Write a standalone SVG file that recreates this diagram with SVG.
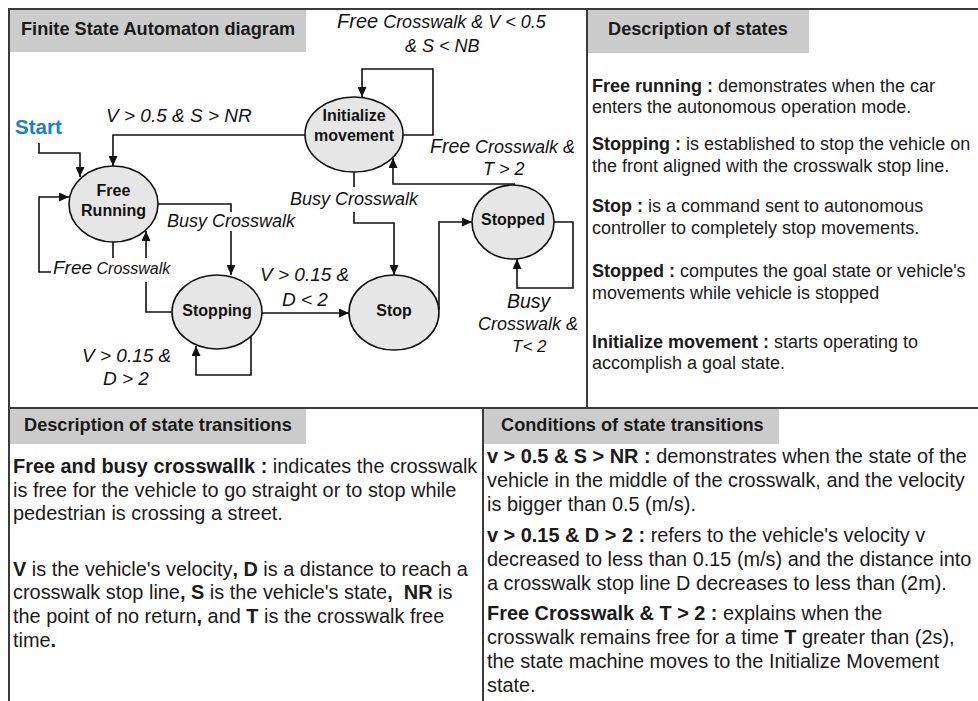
<svg xmlns="http://www.w3.org/2000/svg" width="978" height="701" viewBox="0 0 978 701">
<style>
.frame{stroke:#3a3a3a;stroke-width:2;fill:none}
.hdr{fill:#cccccc}
.htxt{font-family:"Liberation Sans",Arial,sans-serif;font-weight:bold;font-size:18.2px;fill:#1a1a1a}
.state ellipse{fill:#e6e6e6;stroke:#111;stroke-width:1.6}
.state text{font-family:"Liberation Sans",Arial,sans-serif;font-weight:bold;font-size:16px;fill:#111;text-anchor:middle}
.conn path{fill:none;stroke:#111;stroke-width:1.6}
.lbl{font-family:"Liberation Sans",Arial,sans-serif;font-style:italic;fill:#111}
.p18{font-family:"Liberation Sans",Arial,sans-serif;font-size:18px;fill:#1a1a1a}
.p19{font-family:"Liberation Sans",Arial,sans-serif;font-size:19.9px;fill:#1a1a1a}
.b{font-weight:bold}
</style>
<defs>
<marker id="arr" markerUnits="userSpaceOnUse" markerWidth="10" markerHeight="9" refX="10" refY="4.5" orient="auto">
<path d="M0,0 L10,4.5 L0,9 z" fill="#111"/>
</marker>
</defs>
<rect x="0" y="0" width="978" height="701" fill="#ffffff"/>

<!-- panels -->
<g id="panels">
<rect class="hdr" x="10" y="10" width="296" height="42"/>
<rect class="hdr" x="588" y="10" width="221" height="43"/>
<rect class="hdr" x="10" y="409" width="296" height="35"/>
<rect class="hdr" x="484" y="409" width="295" height="35"/>
<path class="frame" d="M978,9 H9 V701 M587,9 V408 M9,408 H978 M483,408 V701"/>
<text class="htxt" x="21" y="35">Finite State Automaton diagram</text>
<text class="htxt" x="608" y="35">Description of states</text>
<text class="htxt" x="24" y="431">Description of state transitions</text>
<text class="htxt" x="501" y="431">Conditions of state transitions</text>
</g>

<!-- start marker -->
<text x="15" y="134" font-family="'Liberation Sans',Arial,sans-serif" font-weight="bold" font-size="20.5" fill="#1b80c4">Start</text>

<!-- connectors -->
<g id="connectors" class="conn">
<path d="M39,143 V153 H80 V177" marker-end="url(#arr)"/>
<path d="M305,135 H113 V166" marker-end="url(#arr)"/>
<path d="M403,135 H433 V69 H362 V97" marker-end="url(#arr)"/>
<path d="M354,172 V223 H394 V275" marker-end="url(#arr)"/>
<path d="M515,184 H393 V158" marker-end="url(#arr)"/>
<path d="M158,204 H231 V275" marker-end="url(#arr)"/>
<path d="M172,312 H146 V231" marker-end="url(#arr)"/>
<path d="M113,242 V272 H39 V197 H69" marker-end="url(#arr)"/>
<path d="M251,336 V375 H196 V346" marker-end="url(#arr)"/>
<path d="M262,313 H349" marker-end="url(#arr)"/>
<path d="M439,310 V222 H472" marker-end="url(#arr)"/>
<path d="M554,222 H573 V288 H517 V259" marker-end="url(#arr)"/>
</g>

<!-- connector labels -->
<g id="labels">
<rect x="288" y="187" width="132" height="25" fill="#fff"/>
<rect x="164" y="212" width="133" height="19" fill="#fff"/>
<rect x="51" y="258" width="121" height="24" fill="#fff"/>
<text class="lbl" x="106" y="122" font-size="19">V &gt; 0.5 &amp; S &gt; NR</text>
<text class="lbl" x="337" y="28" font-size="18"><tspan font-size="20">Free</tspan> Crosswalk &amp; V &lt; 0.5</text>
<text class="lbl" x="405" y="52" font-size="18">&amp; S &lt; NB</text>
<text class="lbl" x="430" y="153" font-size="18"><tspan font-size="19.5">Free</tspan> Crosswalk &amp;</text>
<text class="lbl" x="483" y="175" font-size="18">T &gt; 2</text>
<text class="lbl" x="290" y="205" font-size="18">Busy Crosswalk</text>
<text class="lbl" x="167" y="227" font-size="18">Busy Crosswalk</text>
<text class="lbl" x="53" y="274" font-size="16"><tspan font-size="19">Free</tspan> Crosswalk</text>
<text class="lbl" x="82" y="362" font-size="19">V &gt; 0.15 &amp;</text>
<text class="lbl" x="103" y="385" font-size="19">D &gt; 2</text>
<text class="lbl" x="260" y="281" font-size="19">V &gt; 0.15 &amp;</text>
<text class="lbl" x="282" y="306" font-size="19">D &lt; 2</text>
<text class="lbl" x="507" y="308" font-size="19.5">Busy</text>
<text class="lbl" x="478" y="330" font-size="18">Crosswalk &amp;</text>
<text class="lbl" x="512" y="352" font-size="17">T&lt; 2</text>
</g>

<!-- states -->
<g id="free-running" class="state">
<ellipse cx="113.5" cy="204" rx="44.5" ry="38"/>
<text x="113.5" y="196">Free</text>
<text x="113.5" y="216">Running</text>
</g>
<g id="initialize-movement" class="state">
<ellipse cx="354" cy="134.5" rx="49" ry="37.5"/>
<text x="354" y="121">Initialize</text>
<text x="354" y="141">movement</text>
</g>
<g id="stopping" class="state">
<ellipse cx="217" cy="312" rx="45" ry="37"/>
<text x="217" y="316">Stopping</text>
</g>
<g id="stop" class="state">
<ellipse cx="394" cy="312.5" rx="45" ry="37.5"/>
<text x="394" y="316">Stop</text>
</g>
<g id="stopped" class="state">
<ellipse cx="513" cy="222" rx="41" ry="37"/>
<text x="513" y="225">Stopped</text>
</g>

<!-- description of states -->
<g id="desc-states" class="p18">
<text x="592" y="92"><tspan class="b">Free running :</tspan> demonstrates when the car</text>
<text x="592" y="113">enters the autonomous operation mode.</text>
<text x="592" y="150"><tspan class="b">Stopping :</tspan> is established to stop the vehicle on</text>
<text x="592" y="172">the front aligned with the crosswalk stop line.</text>
<text x="592" y="212"><tspan class="b">Stop :</tspan> is a command sent to autonomous</text>
<text x="592" y="234">controller to completely stop movements.</text>
<text x="592" y="277"><tspan class="b">Stopped :</tspan> computes the goal state or vehicle's</text>
<text x="592" y="299">movements while vehicle is stopped</text>
<text x="592" y="348"><tspan class="b">Initialize movement :</tspan> starts operating to</text>
<text x="592" y="369">accomplish a goal state.</text>
</g>

<!-- description of state transitions -->
<g id="desc-transitions" class="p19">
<text x="13" y="473"><tspan class="b">Free and busy crosswallk :</tspan> indicates the crosswalk</text>
<text x="13" y="497">is free for the vehicle to go straight or to stop while</text>
<text x="13" y="520">pedestrian is crossing a street.</text>
<text x="13" y="576"><tspan class="b">V</tspan> is the vehicle's velocity<tspan class="b">,</tspan> <tspan class="b">D</tspan> is a distance to reach a</text>
<text x="13" y="599" xml:space="preserve">crosswalk stop line<tspan class="b">,</tspan> <tspan class="b">S</tspan> is the vehicle's state<tspan class="b">,</tspan>  <tspan class="b">NR</tspan> is</text>
<text x="13" y="623">the point of no return<tspan class="b">,</tspan> and <tspan class="b">T</tspan> is the crosswalk free</text>
<text x="13" y="647">time<tspan class="b">.</tspan></text>
</g>

<!-- conditions of state transitions -->
<g id="cond-transitions" class="p19">
<text x="487" y="463"><tspan class="b">v &gt; 0.5 &amp; S &gt; NR :</tspan> demonstrates when the state of the</text>
<text x="487" y="487">vehicle in the middle of the crosswalk, and the velocity</text>
<text x="487" y="511">is bigger than 0.5 (m/s).</text>
<text x="487" y="542"><tspan class="b">v &gt; 0.15 &amp; D &gt; 2 :</tspan> refers to the vehicle's velocity v</text>
<text x="487" y="566">decreased to less than 0.15 (m/s) and the distance into</text>
<text x="487" y="590">a crosswalk stop line D decreases to less than (2m).</text>
<text x="487" y="620"><tspan class="b">Free Crosswalk &amp; T &gt; 2 :</tspan> explains when the</text>
<text x="487" y="644">crosswalk remains free for a time <tspan class="b">T</tspan> greater than (2s),</text>
<text x="487" y="668">the state machine moves to the Initialize Movement</text>
<text x="487" y="692">state.</text>
</g>
</svg>
